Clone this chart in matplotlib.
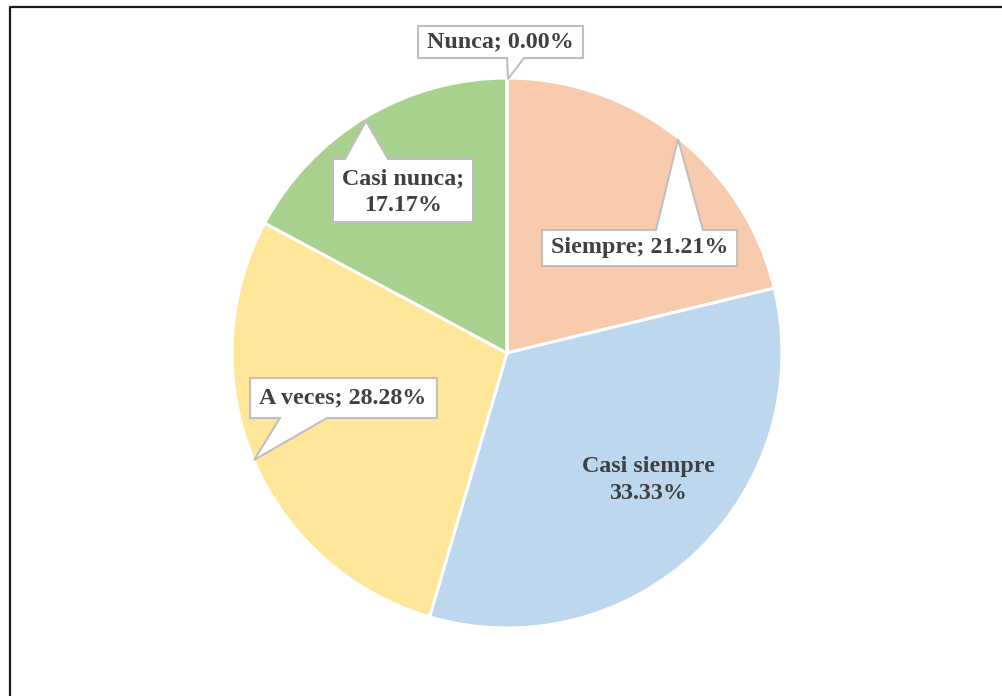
import matplotlib
matplotlib.use("Agg")
import matplotlib.pyplot as plt
from matplotlib.patches import Polygon
from matplotlib.lines import Line2D

categories = ["Siempre", "Casi siempre", "A veces", "Casi nunca", "Nunca"]
percents = [21.21, 33.33, 28.28, 17.17, 0.00]
colors = ["#F8CBAD", "#BDD7EE", "#FFE699", "#A9D18E", "#8FAADC"]

W, H = 1002, 696
fig = plt.figure(figsize=(W / 100, H / 100), dpi=100)
ax = fig.add_axes([0, 0, 1, 1])

cx, cy, r = 507, H - 353, 275
ax.pie(percents, colors=colors, startangle=90, counterclock=False,
       center=(cx, cy), radius=r,
       wedgeprops=dict(edgecolor="white", linewidth=2.2))
ax.set_xlim(0, W)
ax.set_ylim(0, H)
ax.axis("off")

# callout shapes in pixel coords (y down): box, side of pointer, base x's, tip
callouts = {
    "Nunca": dict(box=(418, 26, 583, 58), side="bottom", base=(507, 524), tip=(508, 79)),
    "Siempre": dict(box=(542, 230, 737, 266), side="top", base=(656, 703), tip=(678, 139)),
    "Casi nunca": dict(box=(333, 159, 473, 222), side="top", base=(345, 388), tip=(366, 121)),
    "A veces": dict(box=(250, 378, 437, 418), side="bottom", base=(280, 327), tip=(254, 460)),
}


def callout_poly(box, side, base, tip):
    x0, y0, x1, y1 = box
    b0, b1 = base
    if side == "top":
        pts = [(x0, y0), (b0, y0), tip, (b1, y0), (x1, y0), (x1, y1), (x0, y1)]
    else:
        pts = [(x0, y0), (x1, y0), (x1, y1), (b1, y1), tip, (b0, y1), (x0, y1)]
    return [(x, H - y) for x, y in pts]


for name, c in callouts.items():
    poly = Polygon(callout_poly(**c), closed=True, facecolor="white",
                   edgecolor="#BFBFBF", linewidth=1.5, zorder=3)
    ax.add_patch(poly)

font = dict(family="Liberation Serif", weight="bold", size=17.3, color="#404040")
pct = dict(zip(categories, percents))

ax.text(500, H - 42, f"Nunca; {pct['Nunca']:.2f}%", ha="center", va="center", zorder=4, **font)
ax.text(640, H - 248, f"Siempre; {pct['Siempre']:.2f}%", ha="center", va="center", zorder=4, **font)
ax.text(403, H - 192, f"Casi nunca;\n{pct['Casi nunca']:.2f}%", ha="center", va="center",
        linespacing=1.35, zorder=4, **font)
ax.text(343, H - 398, f"A veces; {pct['A veces']:.2f}%", ha="center", va="center", zorder=4, **font)
ax.text(648, H - 480, f"Casi siempre\n{pct['Casi siempre']:.2f}%", ha="center", va="center",
        linespacing=1.35, zorder=4, **font)

# outer frame (left and top edges visible)
fig.add_artist(Line2D([9.5 / W, 9.5 / W, 1.0], [0.0, 1 - 6.5 / H, 1 - 6.5 / H],
                      transform=fig.transFigure, color="#1a1a1a", linewidth=1.6))

fig.savefig("out.png", dpi=100, facecolor="white")
